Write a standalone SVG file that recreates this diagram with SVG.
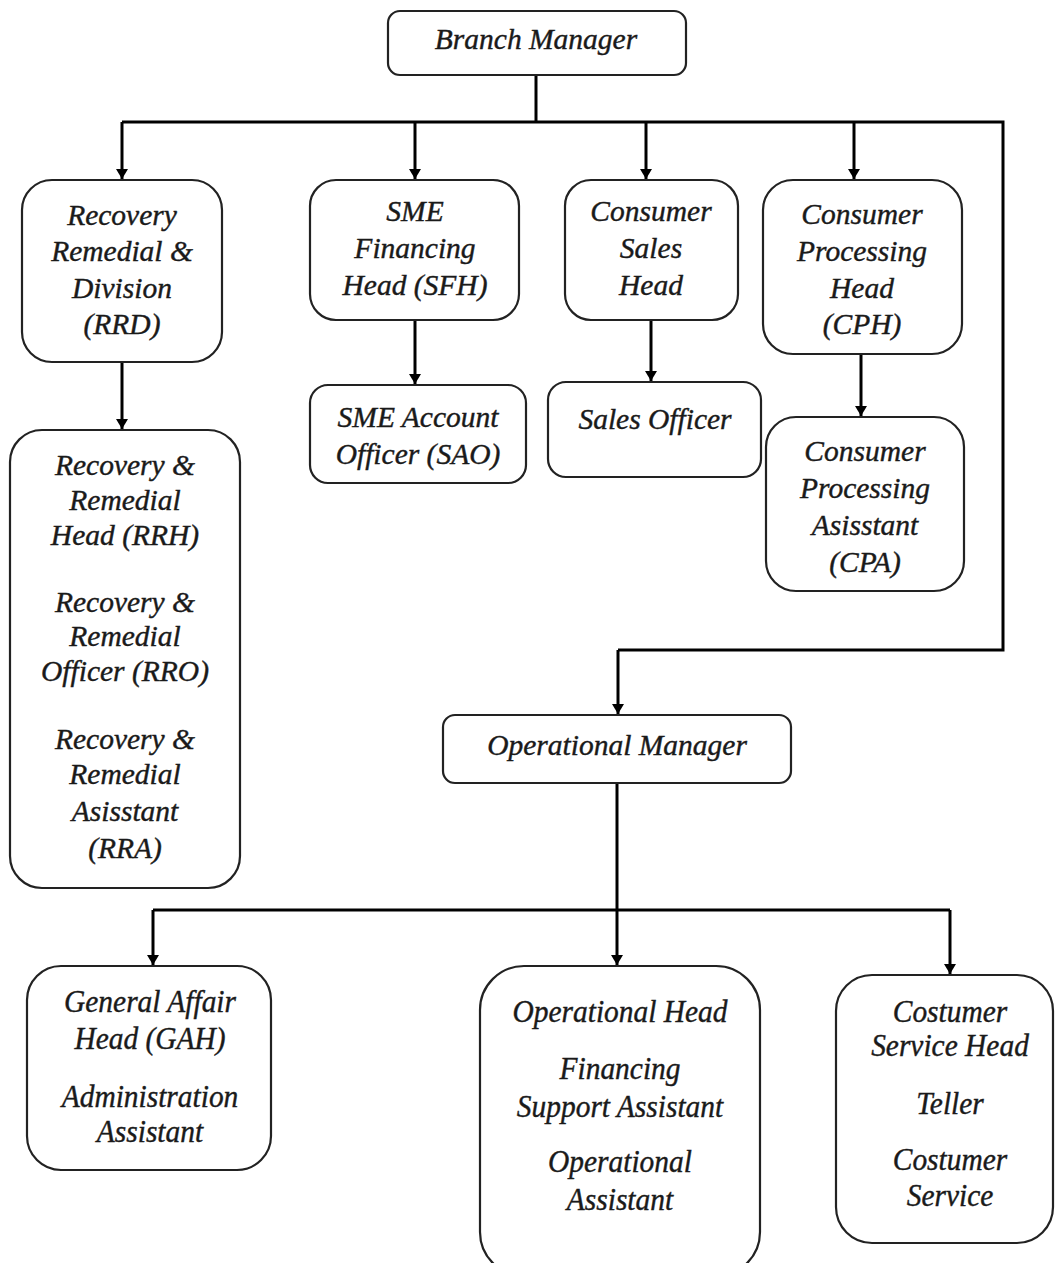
<svg xmlns="http://www.w3.org/2000/svg" width="1055" height="1263" viewBox="0 0 1055 1263">
<defs>
<marker id="arr" viewBox="0 0 10 12" refX="10" refY="6" markerWidth="10" markerHeight="12" markerUnits="userSpaceOnUse" orient="auto">
<path d="M0,0 L10,6 L0,12 Z" fill="#000"/>
</marker>
<style>
.box{fill:#fff;stroke:#222;stroke-width:2.2}
.t{font-family:"Liberation Serif","Times New Roman",serif;font-style:italic;font-size:29.5px;fill:#1a1a1a;stroke:#1a1a1a;stroke-width:0.4;text-anchor:middle}
.b{font-size:31px}
.c{fill:none;stroke:#000;stroke-width:3}
.ca{fill:none;stroke:#000;stroke-width:3;marker-end:url(#arr)}
</style>
</defs>
<rect width="1055" height="1263" fill="#fff"/>
<g id="connectors">
<path class="c" d="M536,75 V122"/>
<path class="c" d="M122,122 H1003 V650 H618"/>
<path class="ca" d="M122,122 V179"/>
<path class="ca" d="M415,122 V179"/>
<path class="ca" d="M646,122 V179"/>
<path class="ca" d="M854,122 V179"/>
<path class="ca" d="M618,650 V714"/>
<path class="ca" d="M122,362 V429"/>
<path class="ca" d="M415,320 V384"/>
<path class="ca" d="M651,320 V381"/>
<path class="ca" d="M861,354 V416"/>
<path class="ca" d="M617,783 V965"/>
<path class="c" d="M153,910 H950"/>
<path class="ca" d="M153,910 V965"/>
<path class="ca" d="M950,910 V974"/>
</g>
<g id="branch-manager">
<rect class="box" x="388" y="11" width="298" height="64" rx="12"/>
<text class="t" x="536" y="49">Branch Manager</text>
</g>
<g id="rrd">
<rect class="box" x="22" y="180" width="200" height="182" rx="30"/>
<text class="t" x="122" y="225">Recovery</text>
<text class="t" x="122" y="261">Remedial &amp;</text>
<text class="t" x="122" y="298">Division</text>
<text class="t" x="122" y="334">(RRD)</text>
</g>
<g id="sfh">
<rect class="box" x="310" y="180" width="209" height="140" rx="26"/>
<text class="t" x="415" y="221">SME</text>
<text class="t" x="415" y="258">Financing</text>
<text class="t" x="415" y="295">Head (SFH)</text>
</g>
<g id="csh">
<rect class="box" x="565" y="180" width="173" height="140" rx="26"/>
<text class="t" x="651" y="221">Consumer</text>
<text class="t" x="651" y="258">Sales</text>
<text class="t" x="651" y="295">Head</text>
</g>
<g id="cph">
<rect class="box" x="763" y="180" width="199" height="174" rx="30"/>
<text class="t" x="862" y="224">Consumer</text>
<text class="t" x="862" y="261">Processing</text>
<text class="t" x="862" y="298">Head</text>
<text class="t" x="862" y="334">(CPH)</text>
</g>
<g id="rr-staff">
<rect class="box" x="10" y="430" width="230" height="458" rx="32"/>
<text class="t" x="125" y="475">Recovery &amp;</text>
<text class="t" x="125" y="510">Remedial</text>
<text class="t" x="125" y="545">Head (RRH)</text>
<text class="t" x="125" y="612">Recovery &amp;</text>
<text class="t" x="125" y="646">Remedial</text>
<text class="t" x="125" y="681">Officer (RRO)</text>
<text class="t" x="125" y="749">Recovery &amp;</text>
<text class="t" x="125" y="784">Remedial</text>
<text class="t" x="125" y="821">Asisstant</text>
<text class="t" x="125" y="858">(RRA)</text>
</g>
<g id="sao">
<rect class="box" x="310" y="385" width="216" height="98" rx="18"/>
<text class="t" x="418" y="427">SME Account</text>
<text class="t" x="418" y="464">Officer (SAO)</text>
</g>
<g id="sales-officer">
<rect class="box" x="548" y="382" width="213" height="95" rx="18"/>
<text class="t" x="655" y="429">Sales Officer</text>
</g>
<g id="cpa">
<rect class="box" x="766" y="417" width="198" height="174" rx="30"/>
<text class="t" x="865" y="461">Consumer</text>
<text class="t" x="865" y="498">Processing</text>
<text class="t" x="865" y="535">Asisstant</text>
<text class="t" x="865" y="572">(CPA)</text>
</g>
<g id="operational-manager">
<rect class="box" x="443" y="715" width="348" height="68" rx="12"/>
<text class="t" x="617" y="755">Operational Manager</text>
</g>
<g id="gah">
<rect class="box" x="27" y="966" width="244" height="204" rx="34"/>
<g transform="translate(150,0) scale(0.95,1)">
<text class="t b" x="0" y="1012">General Affair</text>
<text class="t b" x="0" y="1049">Head (GAH)</text>
<text class="t b" x="0" y="1107">Administration</text>
<text class="t b" x="0" y="1142">Assistant</text>
</g>
</g>
<g id="operational-head">
<rect class="box" x="480" y="966" width="280" height="310" rx="44"/>
<g transform="translate(620,0) scale(0.95,1)">
<text class="t b" x="0" y="1022">Operational Head</text>
<text class="t b" x="0" y="1079">Financing</text>
<text class="t b" x="0" y="1117">Support Assistant</text>
<text class="t b" x="0" y="1172">Operational</text>
<text class="t b" x="0" y="1210">Assistant</text>
</g>
</g>
<g id="customer-service">
<rect class="box" x="836" y="975" width="217" height="268" rx="36"/>
<g transform="translate(950,0) scale(0.95,1)">
<text class="t b" x="0" y="1022">Costumer</text>
<text class="t b" x="0" y="1056">Service Head</text>
<text class="t b" x="0" y="1114">Teller</text>
<text class="t b" x="0" y="1170">Costumer</text>
<text class="t b" x="0" y="1206">Service</text>
</g>
</g>
</svg>
